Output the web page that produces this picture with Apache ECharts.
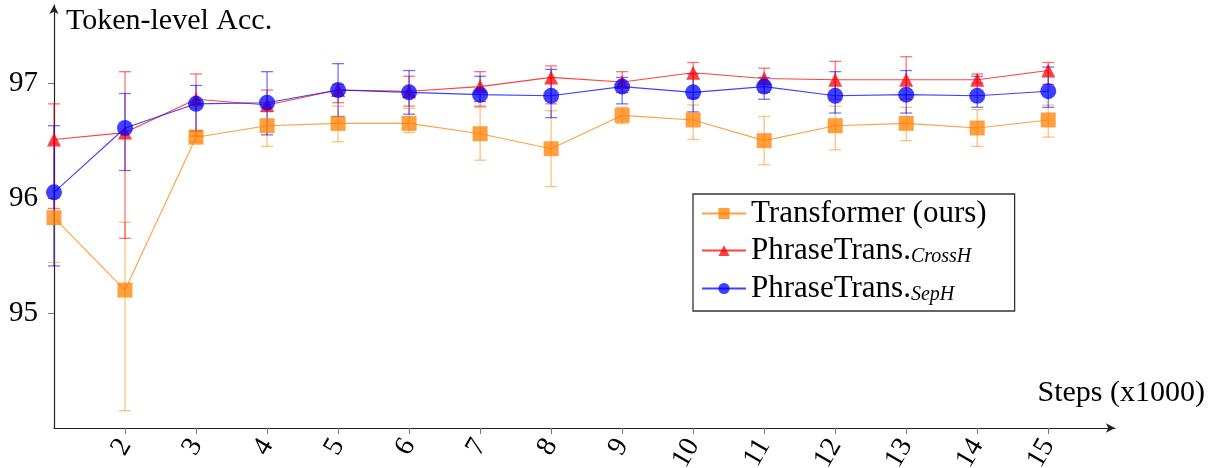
<!DOCTYPE html>
<html>
<head>
<meta charset="utf-8">
<script src="https://cdn.jsdelivr.net/npm/echarts@6/dist/echarts.min.js"></script>
<style>
html,body{margin:0;padding:0;background:#fff;}
#chart{width:1215px;height:468px;}
</style>
</head>
<body>
<div id="chart"></div>
<script>
var steps = [1,2,3,4,5,6,7,8,9,10,11,12,13,14,15];
var xTickLabels = [2,3,4,5,6,7,8,9,10,11,12,13,14,15];
var yTickLabels = [95,96,97];

var transformer     = [95.83,95.20,96.53,96.63,96.65,96.65,96.56,96.43,96.72,96.68,96.50,96.63,96.65,96.61,96.68];
var transformerLow  = [95.44,94.15,96.49,96.45,96.49,96.57,96.33,96.10,96.65,96.51,96.29,96.42,96.50,96.45,96.53];
var transformerHigh = [96.00,95.79,96.59,96.75,96.80,96.78,96.79,96.76,96.79,96.81,96.71,96.80,96.79,96.77,96.81];

var crossH     = [96.51,96.57,96.86,96.81,96.94,96.93,96.97,97.05,97.01,97.09,97.04,97.03,97.03,97.03,97.11];
var crossHLow  = [95.91,95.65,96.54,96.79,96.83,96.80,96.80,96.82,96.92,96.87,96.92,96.86,96.86,97.00,96.99];
var crossHHigh = [96.82,97.10,97.08,96.94,96.99,97.06,97.10,97.15,97.10,97.18,97.13,97.19,97.23,97.08,97.18];

var sepH     = [96.05,96.61,96.82,96.83,96.94,96.92,96.90,96.89,96.97,96.92,96.97,96.89,96.90,96.89,96.93];
var sepHLow  = [95.41,96.24,96.58,96.55,96.71,96.73,96.84,96.70,96.82,96.75,96.86,96.74,96.74,96.79,96.79];
var sepHHigh = [96.63,96.91,96.98,97.10,97.17,97.11,97.06,97.12,97.05,97.08,97.05,97.10,97.11,97.06,97.14];

var names = ['Transformer (ours)', 'PhraseTrans.CrossH', 'PhraseTrans.SepH'];
var FONT = '"Liberation Serif", "DejaVu Serif", serif';

function pts(vals){ return steps.map(function(s,i){ return [s, vals[i]]; }); }
function bars(lo, hi){ return steps.map(function(s,i){ return [s, lo[i], hi[i]]; }); }

function errSeries(name, lo, hi, color){
  return {
    type: 'custom', name: name, z: 1,
    data: bars(lo, hi),
    encode: {x: 0, y: [1, 2]},
    silent: true,
    renderItem: function(params, api){
      var x = api.value(0);
      var a = api.coord([x, api.value(1)]);
      var b = api.coord([x, api.value(2)]);
      var w = 6;
      var st = {stroke: color, lineWidth: 1.3, fill: null};
      return {type: 'group', children: [
        {type: 'line', shape: {x1: a[0], y1: a[1], x2: b[0], y2: b[1]}, style: st},
        {type: 'line', shape: {x1: a[0]-w, y1: a[1], x2: a[0]+w, y2: a[1]}, style: st},
        {type: 'line', shape: {x1: b[0]-w, y1: b[1], x2: b[0]+w, y2: b[1]}, style: st}
      ]};
    }
  };
}

function lineSeries(name, vals, color, symbol, size){
  return {
    type: 'line', name: name, z: 3,
    data: pts(vals),
    symbol: symbol, symbolSize: size,
    showAllSymbol: true,
    lineStyle: {color: color, width: 1.1},
    itemStyle: {color: color},
    emphasis: {disabled: true}
  };
}

var chart = echarts.init(document.getElementById('chart'), null, {renderer: 'canvas'});
chart.setOption({
  animation: false,
  backgroundColor: '#fff',
  grid: {left: 54, right: 100, top: 5, bottom: 40, containLabel: false, outerBoundsMode: 'none'},
  xAxis: {
    type: 'value', min: 1, max: 15.94, interval: 1,
    splitLine: {show: false},
    axisLine: {lineStyle: {color: '#222', width: 1.2}, symbol: ['none', 'arrow'], symbolSize: [7, 9]},
    axisTick: {show: true, length: 6, lineStyle: {color: '#777'}, customValues: xTickLabels},
    axisLabel: {customValues: xTickLabels, rotate: 60, margin: 13, fontFamily: FONT, fontSize: 28, color: '#000'}
  },
  yAxis: {
    type: 'value', min: 94, max: 97.68, interval: 1,
    splitLine: {show: false},
    axisLine: {lineStyle: {color: '#222', width: 1.2}, symbol: ['none', 'arrow'], symbolSize: [7, 9]},
    axisTick: {show: true, length: 6, lineStyle: {color: '#777'}, customValues: yTickLabels},
    axisLabel: {customValues: yTickLabels, margin: 16, fontFamily: FONT, fontSize: 29, color: '#000'}
  },
  legend: {
    data: names,
    orient: 'vertical',
    left: 693, top: 194,
    backgroundColor: '#fff',
    borderColor: '#333', borderWidth: 1.3, borderRadius: 0,
    padding: [4, 28, 6, 8],
    itemGap: 5, itemWidth: 44, itemHeight: 14,
    selectedMode: false,
    textStyle: {
      fontFamily: FONT, fontSize: 31, color: '#000',
      rich: {
        base: {fontFamily: FONT, fontSize: 31, color: '#000', lineHeight: 33},
        sub: {fontFamily: FONT, fontSize: 20, fontStyle: 'italic', color: '#000', lineHeight: 33, verticalAlign: 'bottom', padding: [13, 0, 0, 0]}
      }
    },
    formatter: function(n){
      if (n === names[1]) return '{base|PhraseTrans.}{sub|CrossH}';
      if (n === names[2]) return '{base|PhraseTrans.}{sub|SepH}';
      return '{base|' + n + '}';
    }
  },
  graphic: [
    {type: 'text', left: 66, top: 6, style: {text: 'Token-level Acc.', fontFamily: FONT, fontSize: 30, fill: '#000'}},
    {type: 'text', right: 10, top: 378, style: {text: 'Steps (x1000)', fontFamily: FONT, fontSize: 30, fill: '#000'}}
  ],
  series: [
    errSeries('errT', transformerLow, transformerHigh, 'rgba(255,140,20,0.55)'),
    errSeries('errC', crossHLow, crossHHigh, 'rgba(255,0,0,0.55)'),
    errSeries('errS', sepHLow, sepHHigh, 'rgba(0,0,255,0.55)'),
    lineSeries(names[0], transformer, 'rgba(255,128,0,0.75)', 'rect', 15),
    lineSeries(names[1], crossH, 'rgba(255,0,0,0.75)', 'triangle', 14),
    lineSeries(names[2], sepH, 'rgba(0,0,255,0.75)', 'circle', 16)
  ]
});
</script>
</body>
</html>
